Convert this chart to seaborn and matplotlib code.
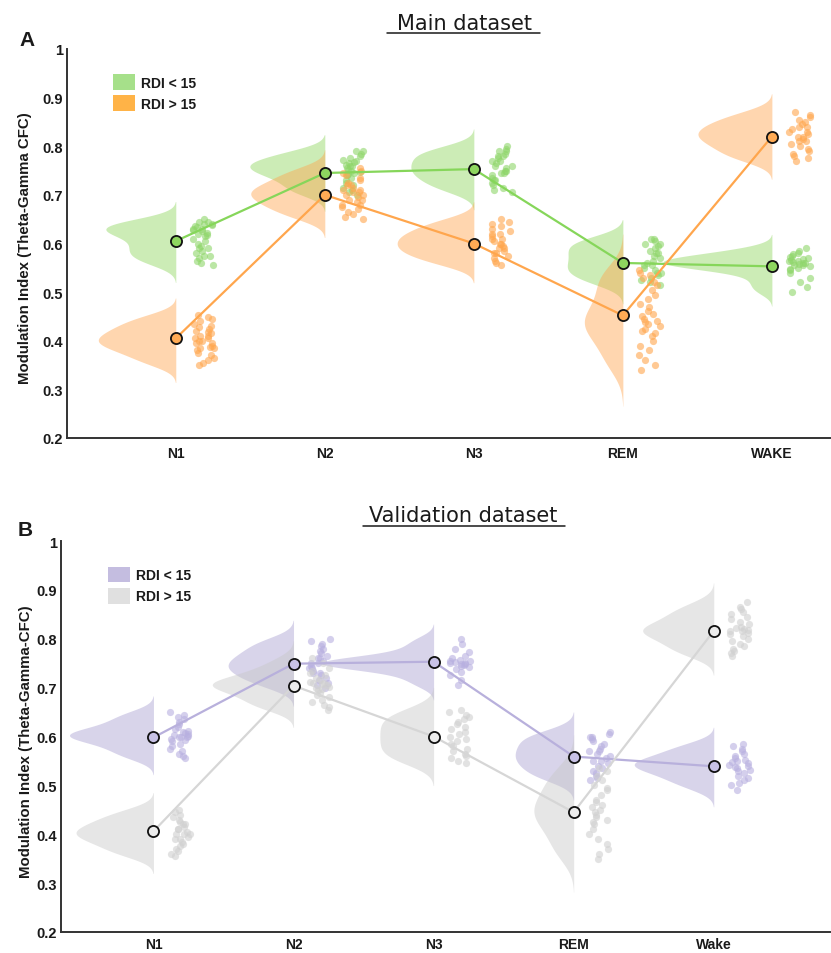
import numpy as np
import pandas as pd
import matplotlib
matplotlib.use("Agg")
import matplotlib.pyplot as plt
import matplotlib.transforms as mtransforms
from matplotlib.patches import Patch
from matplotlib.lines import Line2D
import seaborn as sns

sns.set_theme(style="white")
plt.rcParams["font.family"] = ["Liberation Sans", "DejaVu Sans"]

# ---------------- data ----------------
stages_main = ["N1", "N2", "N3", "REM", "WAKE"]
stages_val = ["N1", "N2", "N3", "REM", "Wake"]
group_labels = ["RDI < 15", "RDI > 15"]

main_low_mean = [0.605, 0.745, 0.753, 0.560, 0.553]
main_high_mean = [0.405, 0.700, 0.600, 0.452, 0.820]
val_low_mean = [0.598, 0.749, 0.753, 0.559, 0.539]
val_high_mean = [0.406, 0.704, 0.600, 0.445, 0.816]

# Main dataset, RDI < 15
main_low_n1 = [0.650, 0.645, 0.645, 0.640, 0.640, 0.638, 0.635, 0.633, 0.630, 0.630,
               0.628, 0.625, 0.622, 0.620, 0.618, 0.615, 0.610, 0.605, 0.600, 0.595,
               0.590, 0.590, 0.585, 0.580, 0.575, 0.575, 0.570, 0.565, 0.560, 0.556]
main_low_n2 = [0.790, 0.790, 0.785, 0.780, 0.775, 0.772, 0.770, 0.768, 0.765, 0.762,
               0.760, 0.760, 0.755, 0.752, 0.750, 0.748, 0.745, 0.742, 0.740, 0.735,
               0.730, 0.725, 0.720, 0.715, 0.710, 0.705, 0.700]
main_low_n3 = [0.800, 0.795, 0.790, 0.790, 0.785, 0.780, 0.780, 0.775, 0.770, 0.770,
               0.765, 0.760, 0.760, 0.755, 0.750, 0.750, 0.745, 0.745, 0.740, 0.735,
               0.730, 0.730, 0.725, 0.720, 0.715, 0.710, 0.705]
main_low_rem = [0.610, 0.610, 0.605, 0.600, 0.600, 0.595, 0.590, 0.585, 0.580, 0.580,
                0.575, 0.570, 0.565, 0.560, 0.555, 0.555, 0.550, 0.545, 0.540, 0.540,
                0.535, 0.530, 0.525, 0.520, 0.515]
main_low_wake = [0.590, 0.585, 0.580, 0.578, 0.575, 0.572, 0.570, 0.568, 0.566, 0.565,
                 0.563, 0.562, 0.560, 0.560, 0.558, 0.556, 0.555, 0.553, 0.550, 0.548,
                 0.545, 0.540, 0.530, 0.520, 0.510, 0.500]

# Main dataset, RDI > 15
main_high_n1 = [0.452, 0.448, 0.445, 0.440, 0.435, 0.430, 0.428, 0.425, 0.420, 0.418,
                0.415, 0.410, 0.410, 0.405, 0.405, 0.400, 0.400, 0.395, 0.395, 0.390,
                0.388, 0.385, 0.385, 0.380, 0.375, 0.370, 0.365, 0.360, 0.355, 0.350]
main_high_n2 = [0.755, 0.750, 0.745, 0.740, 0.735, 0.730, 0.725, 0.720, 0.720, 0.715,
                0.710, 0.710, 0.705, 0.705, 0.700, 0.700, 0.695, 0.690, 0.690, 0.685,
                0.680, 0.680, 0.675, 0.670, 0.665, 0.660, 0.655, 0.650]
main_high_n3 = [0.650, 0.645, 0.640, 0.635, 0.630, 0.625, 0.620, 0.620, 0.615, 0.610,
                0.610, 0.605, 0.600, 0.600, 0.595, 0.590, 0.590, 0.585, 0.580, 0.580,
                0.575, 0.570, 0.565, 0.560, 0.555]
main_high_rem = [0.545, 0.540, 0.535, 0.530, 0.520, 0.515, 0.505, 0.495, 0.485, 0.475,
                 0.470, 0.462, 0.455, 0.450, 0.445, 0.440, 0.438, 0.435, 0.430, 0.425,
                 0.420, 0.415, 0.410, 0.400, 0.390, 0.380, 0.370, 0.360, 0.350, 0.340]
main_high_wake = [0.870, 0.865, 0.860, 0.855, 0.850, 0.845, 0.840, 0.840, 0.835, 0.830,
                  0.830, 0.825, 0.820, 0.820, 0.815, 0.810, 0.810, 0.805, 0.800, 0.795,
                  0.790, 0.785, 0.780, 0.775, 0.770]

# Validation dataset, RDI < 15
val_low_n1 = [0.650, 0.645, 0.640, 0.635, 0.630, 0.625, 0.620, 0.615, 0.612, 0.610,
              0.608, 0.606, 0.604, 0.602, 0.600, 0.600, 0.598, 0.595, 0.592, 0.590,
              0.585, 0.580, 0.575, 0.570, 0.565, 0.560, 0.555]
val_low_n2 = [0.800, 0.795, 0.790, 0.785, 0.780, 0.775, 0.770, 0.765, 0.760, 0.760,
              0.755, 0.750, 0.750, 0.745, 0.740, 0.740, 0.735, 0.730, 0.730, 0.725,
              0.720, 0.715, 0.710, 0.705, 0.700]
val_low_n3 = [0.800, 0.790, 0.780, 0.772, 0.765, 0.760, 0.757, 0.755, 0.754, 0.752,
              0.751, 0.750, 0.749, 0.748, 0.746, 0.744, 0.742, 0.738, 0.732, 0.725,
              0.715, 0.705]
val_low_rem = [0.610, 0.605, 0.600, 0.600, 0.595, 0.590, 0.585, 0.580, 0.575, 0.570,
               0.570, 0.565, 0.560, 0.555, 0.550, 0.550, 0.545, 0.540, 0.535, 0.530,
               0.525, 0.520, 0.515, 0.510]
val_low_wake = [0.585, 0.580, 0.575, 0.570, 0.565, 0.560, 0.555, 0.552, 0.550, 0.548,
                0.545, 0.542, 0.540, 0.538, 0.535, 0.532, 0.530, 0.525, 0.520, 0.515,
                0.510, 0.505, 0.500, 0.490]

# Validation dataset, RDI > 15
val_high_n1 = [0.450, 0.445, 0.440, 0.435, 0.430, 0.425, 0.420, 0.420, 0.415, 0.410,
               0.410, 0.405, 0.400, 0.400, 0.400, 0.395, 0.390, 0.390, 0.385, 0.380,
               0.375, 0.370, 0.365, 0.360, 0.355]
val_high_n2 = [0.760, 0.750, 0.740, 0.735, 0.730, 0.725, 0.720, 0.715, 0.712, 0.710,
               0.710, 0.708, 0.705, 0.702, 0.700, 0.698, 0.695, 0.690, 0.685, 0.680,
               0.675, 0.670, 0.665, 0.660, 0.655]
val_high_n3 = [0.655, 0.650, 0.645, 0.640, 0.635, 0.630, 0.625, 0.620, 0.615, 0.610,
               0.605, 0.600, 0.595, 0.590, 0.585, 0.580, 0.575, 0.570, 0.565, 0.560,
               0.555, 0.550, 0.545]
val_high_rem = [0.535, 0.530, 0.520, 0.510, 0.500, 0.495, 0.490, 0.480, 0.470, 0.465,
                0.460, 0.455, 0.450, 0.445, 0.440, 0.435, 0.430, 0.425, 0.420, 0.410,
                0.400, 0.390, 0.380, 0.370, 0.360, 0.350]
val_high_wake = [0.875, 0.865, 0.860, 0.855, 0.850, 0.845, 0.840, 0.835, 0.830, 0.825,
                 0.822, 0.820, 0.818, 0.815, 0.815, 0.812, 0.810, 0.805, 0.800, 0.795,
                 0.790, 0.785, 0.780, 0.775, 0.770, 0.765]

y_ticks = [0.2, 0.3, 0.4, 0.5, 0.6, 0.7, 0.8, 0.9, 1.0]
y_tick_labels = ["0.2", "0.3", "0.4", "0.5", "0.6", "0.7", "0.8", "0.9", "1"]


def long_df(stages, lists):
    return pd.DataFrame({
        "stage": np.repeat(stages, [len(v) for v in lists]),
        "mi": np.concatenate(lists),
    })


np.random.seed(3)

fig = plt.figure(figsize=(8.31, 9.54), dpi=100)
ax_a = fig.add_axes([67 / 831, 515 / 954, 763 / 831, 389 / 954])
ax_b = fig.add_axes([61 / 831, 21 / 954, 769 / 831, 391 / 954])

TXT = "#1a1a1a"
FAM = ["Liberation Sans", "DejaVu Sans"]
ytick_font = dict(family=FAM, weight="bold", size=10.5)
xtick_font = dict(family=FAM, weight="bold", size=10)
ylab_font = dict(family=FAM, weight="bold", size=10.8)


def draw_panel(ax, stages, low_lists, high_lists, low_mean, high_mean,
               vcols, vwidths, pcols, lcols, mfcs, legcols, ylabel, xlim,
               leg_anchor, ylab_x, xpad):
    # half violins on the left side of each stage
    for lists, col, w in zip([low_lists, high_lists], vcols, vwidths):
        df = long_df(stages, lists)
        n0 = len(ax.collections)
        sns.violinplot(data=df, x="stage", y="mi", order=stages, split=True,
                       inner=None, density_norm="area", width=w, color=col,
                       saturation=1, linewidth=0, alpha=0.45, bw_adjust=1.0,
                       cut=2.5, ax=ax, zorder=1)
        for coll in ax.collections[n0:]:
            coll.set_transform(
                mtransforms.Affine2D().translate(-w / 2, 0) + ax.transData)
    # jittered individual points (to the right of each stage)
    for lists, col in zip([low_lists, high_lists], pcols):
        df = long_df(stages, lists)
        n0 = len(ax.collections)
        sns.stripplot(data=df, x="stage", y="mi", order=stages, jitter=0.075,
                      color=col, alpha=0.6, size=5.2, linewidth=0, ax=ax,
                      zorder=2)
        for coll in ax.collections[n0:]:
            coll.set_offset_transform(
                mtransforms.Affine2D().translate(0.185, 0) + ax.transData)
    # group means
    for means, lc, mfc in zip([low_mean, high_mean], lcols, mfcs):
        sns.pointplot(x=stages, y=means, order=stages, color=lc, errorbar=None,
                      markers="o", markersize=8, markeredgecolor="#111111",
                      markeredgewidth=1.3, markerfacecolor=mfc, linewidth=1.6,
                      ax=ax, zorder=5)

    ax.set_xlim(*xlim)
    ax.set_ylim(0.2, 1.0)
    ax.set_yticks(y_ticks)
    ax.set_yticklabels(y_tick_labels, fontdict=ytick_font, color=TXT)
    ax.set_xticks(range(len(stages)))
    ax.set_xticklabels(stages, fontdict=xtick_font, color=TXT)
    ax.set_xlabel("")
    ax.set_ylabel(ylabel, fontdict=ylab_font, color=TXT)
    ax.yaxis.set_label_coords(ylab_x, 0.49)
    sns.despine(ax=ax)
    for s in ["left", "bottom"]:
        ax.spines[s].set_linewidth(1.4)
        ax.spines[s].set_color("#333333")
    ax.tick_params(direction="in", length=6, width=1.3, color="#333333")
    ax.tick_params(axis="x", pad=xpad)
    ax.tick_params(axis="y", pad=3)
    ax.grid(False)

    handles = [Patch(facecolor=legcols[0], edgecolor="none", label=group_labels[0]),
               Patch(facecolor=legcols[1], edgecolor="none", label=group_labels[1])]
    ax.legend(handles=handles, loc="upper left", bbox_to_anchor=leg_anchor,
              frameon=False, handlelength=1.6, handleheight=1.35,
              handletextpad=0.45, labelspacing=0.4, borderpad=0,
              borderaxespad=0, prop=dict(family="Liberation Sans",
                                         weight="bold", size=10),
              labelcolor=TXT)


draw_panel(ax_a, stages_main,
           [main_low_n1, main_low_n2, main_low_n3, main_low_rem, main_low_wake],
           [main_high_n1, main_high_n2, main_high_n3, main_high_rem, main_high_wake],
           main_low_mean, main_high_mean,
           vcols=["#8ed65f", "#ffa54f"], vwidths=[0.73, 0.52],
           pcols=["#8fd66a", "#ffa64d"], lcols=["#86d65a", "#ffa64d"],
           mfcs=["#8ed65f", "#ffab55"], legcols=["#a6e08a", "#ffb347"],
           ylabel="Modulation Index (Theta-Gamma CFC)", xlim=(-0.73, 4.39),
           leg_anchor=(0.060, 0.935), ylab_x=-0.046, xpad=6)

draw_panel(ax_b, stages_val,
           [val_low_n1, val_low_n2, val_low_n3, val_low_rem, val_low_wake],
           [val_high_n1, val_high_n2, val_high_n3, val_high_rem, val_high_wake],
           val_low_mean, val_high_mean,
           vcols=["#a9a0d2", "#c8c8c8"], vwidths=[0.8, 0.58],
           pcols=["#b8b0e0", "#d0d0d0"], lcols=["#b8b0dc", "#d6d6d6"],
           mfcs=["#c8c2e6", "#ececec"], legcols=["#c4bde0", "#e0e0e0"],
           ylabel="Modulation Index (Theta-Gamma-CFC)", xlim=(-0.66, 4.83),
           leg_anchor=(0.061, 0.934), ylab_x=-0.036, xpad=3.5)

# titles with underline
title_font = dict(family="DejaVu Sans", size=15, color=TXT)
fig.text(465 / 831, 1 - 30 / 954, "Main dataset", ha="center", va="baseline",
         **title_font)
fig.add_artist(Line2D([387 / 831, 540 / 831], [1 - 34 / 954] * 2,
                      color=TXT, linewidth=1.1))
fig.text(463.5 / 831, 1 - 522 / 954, "Validation dataset", ha="center",
         va="baseline", **title_font)
fig.add_artist(Line2D([363 / 831, 565 / 831], [1 - 527 / 954] * 2,
                      color=TXT, linewidth=1.1))

# panel letters
fig.text(27 / 831, 1 - 40 / 954, "A", ha="center", va="center",
         family="Liberation Sans", weight="bold", size=15, color=TXT)
fig.text(25 / 831, 1 - 530 / 954, "B", ha="center", va="center",
         family="Liberation Sans", weight="bold", size=15, color=TXT)

fig.savefig("out.png", dpi=100)
